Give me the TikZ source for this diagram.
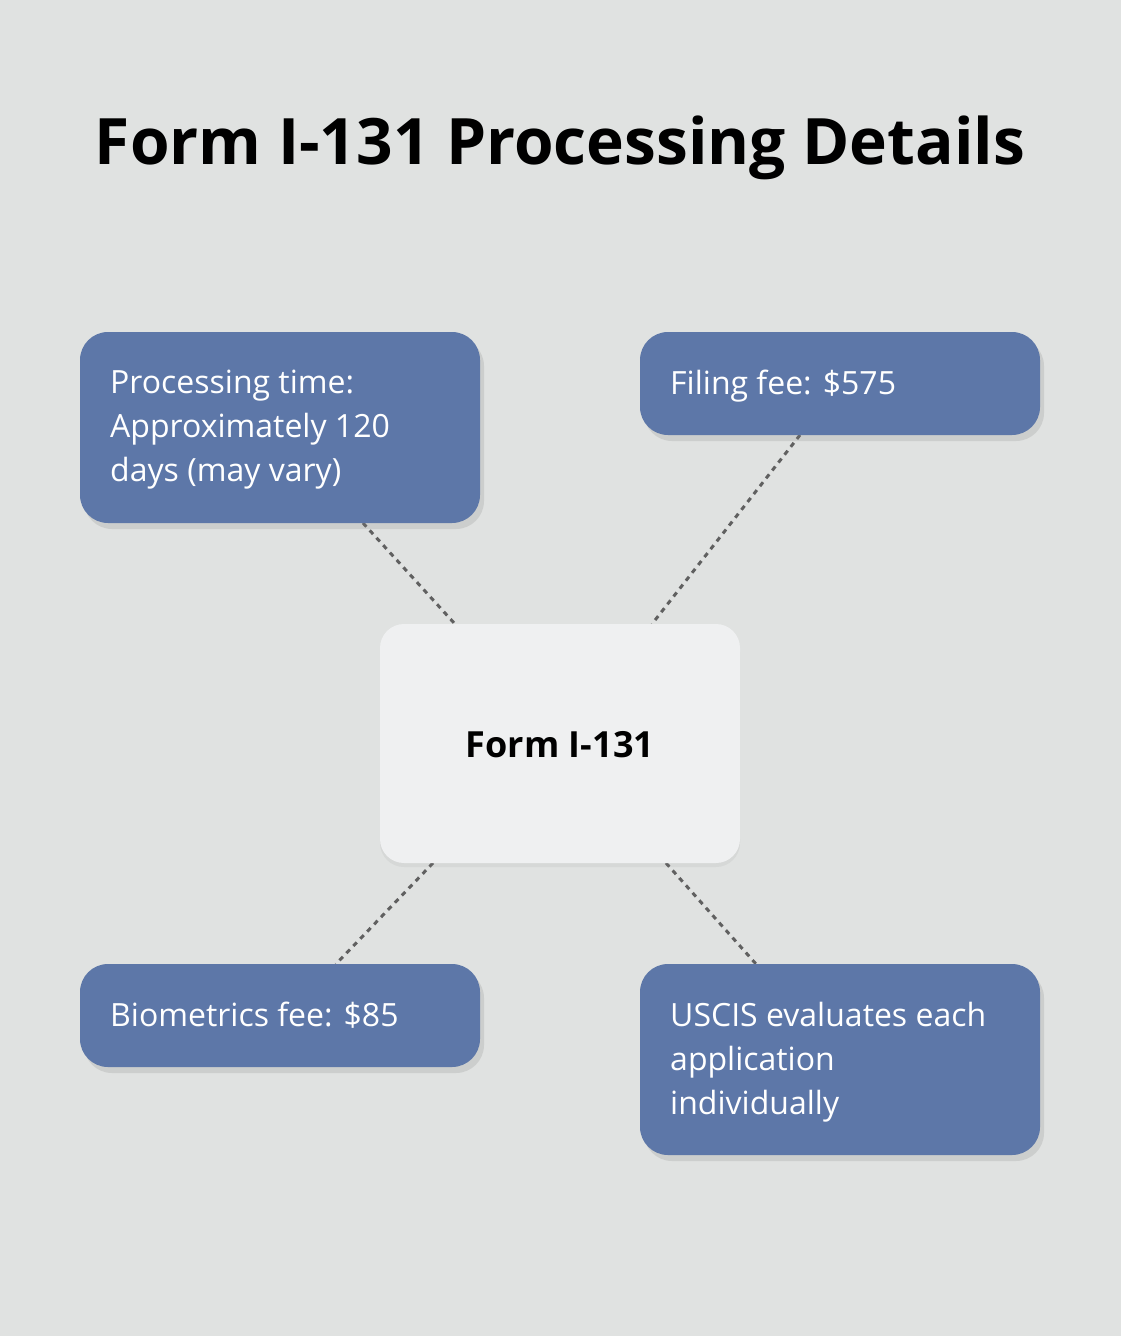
\documentclass[tikz,border=0pt]{standalone}
\usepackage{fontspec}
\setmainfont{Open Sans}
\usetikzlibrary{shadows}
\definecolor{bg}{HTML}{E0E2E1}
\definecolor{boxc}{HTML}{5D77A8}
\definecolor{cen}{HTML}{EFF0F1}
\definecolor{ln}{HTML}{606060}
\tikzset{
 card/.style={fill=boxc, rounded corners=28pt, drop shadow={shadow xshift=4pt, shadow yshift=-6pt, opacity=0.2}},
 ctr/.style={fill=cen, rounded corners=24pt, drop shadow={shadow xshift=0pt, shadow yshift=-4pt, opacity=0.1}},
 txt/.style={anchor=north west, inner sep=0pt, text=white, align=left, font=\fontsize{32}{44}\selectfont},
 link/.style={draw=ln, line width=3pt, dash pattern=on 5pt off 5pt}
}
\begin{document}
\begin{tikzpicture}[x=1pt,y=-1pt]
\fill[bg] (-10,-10) rectangle (1130,1346);
\node[font=\fontsize{64}{66}\selectfont\bfseries] (title) at (560,148) {Form I-131 Processing Details};
\coordinate (a1) at (363,523); \coordinate (a2) at (455,624);
\coordinate (b1) at (800,435); \coordinate (b2) at (652,624);
\coordinate (c1) at (433,863); \coordinate (c2) at (336,964);
\coordinate (d1) at (666,863); \coordinate (d2) at (756,964);
\draw[link] (a1) -- (a2);
\draw[link] (b1) -- (b2);
\draw[link] (c1) -- (c2);
\draw[link] (d1) -- (d2);
\path[card] (80,332) rectangle (480,523);
\path[card] (640,332) rectangle (1040,435);
\path[card] (80,964) rectangle (480,1067);
\path[card] (640,964) rectangle (1040,1155);
\path[ctr] (380,624) rectangle (740,863);
\node[font=\fontsize{36}{40}\selectfont\bfseries] (center) at (560,745) {Form I-131};
\node[txt] (t1) at (110,370) {Processing time:\\Approximately 120\\days (may vary)};
\node[txt] (t2) at (670,370) {Filing fee: \$575};
\node[txt] (t3) at (110,1002) {Biometrics fee: \$85};
\node[txt] (t4) at (670,1002) {USCIS evaluates each\\application\\individually};
\pgfresetboundingbox
\useasboundingbox (0,0) rectangle (1120,1336);
\end{tikzpicture}
\end{document}
